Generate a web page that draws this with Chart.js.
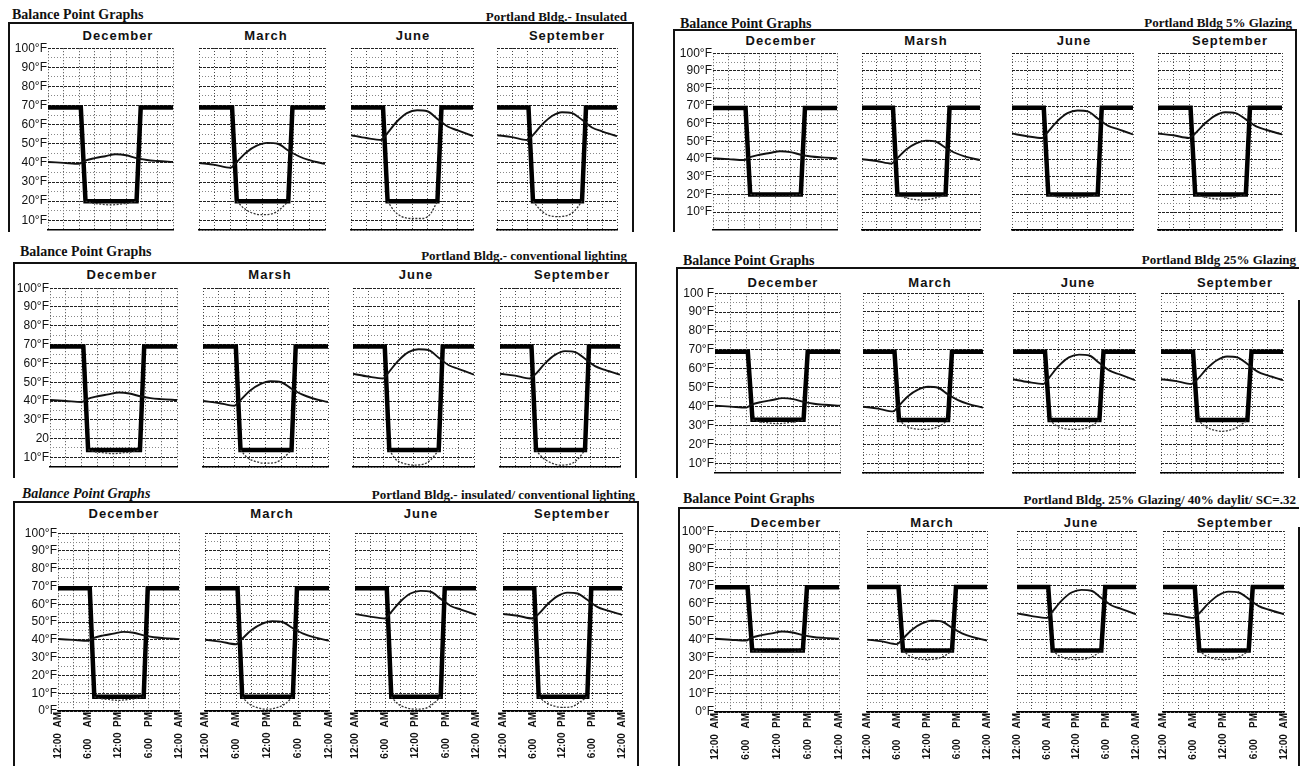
<!DOCTYPE html>
<html>
<head>
<meta charset="utf-8">
<title>Balance Point Graphs</title>
<script src="https://cdn.jsdelivr.net/npm/chart.js@4/dist/chart.umd.min.js"></script>
<style>
  body { margin: 0; width: 1304px; height: 766px; position: relative; overflow: hidden; background: #fff; }
  .txt { position: absolute; white-space: nowrap; color: #111; line-height: 1; }
  .ltitle { font: bold 14px "Liberation Serif", "Times New Roman", serif; }
  .ltitle.it { font-style: italic; }
  .rtitle { font: bold 13px "Liberation Serif", "Times New Roman", serif; }
  .month { font: bold 13px "Liberation Sans", Arial, sans-serif; letter-spacing: 1px; transform: translate(-50%, -50%); }
  .rule { position: absolute; background: #111; }
  canvas { position: absolute; }
</style>
</head>
<body>
<script>
// hours of day for each series
const tempHours = [0, 3, 6, 7, 9, 11, 13, 15, 17, 19, 21, 24];
const bpHours = [0, 6.3, 7.2, 17, 17.8, 24];
const dipHours = [7.2, 8.5, 10, 12, 14, 15.5, 17];

// outdoor temperature (°F), same site for every panel
const decTemp = [40.5, 40, 39.5, 41, 42.5, 43.5, 44.5, 44, 42.5, 41.5, 41, 40.5];
const marTemp = [40, 39, 37.5, 40, 45.5, 49, 50.5, 50, 46.5, 43.5, 41.5, 39.5];
const junTemp = [54.5, 53, 52, 55, 61.5, 66, 67.5, 67, 63, 59, 57, 54];
const sepTemp = [54.5, 53.5, 52, 54, 60, 64.5, 66.5, 66, 62.5, 58.5, 56.5, 54];
const temps = [decTemp, marTemp, junTemp, sepTemp];

// balance point (thick line) per building case
const bpInsulated = [69, 69, 20, 20, 69, 69];
const bpLighting = [69, 69, 14, 14, 69, 69];
const bpInsulatedLighting = [69, 69, 8, 8, 69, 69];
const bpGlazing5 = [69, 69, 20, 20, 69, 69];
const bpGlazing25 = [69, 69, 33, 33, 69, 69];
const bpDaylit = [69, 69, 34, 34, 69, 69];

// lower dotted curve under the occupied balance point, Dec / Mar / Jun / Sep
const dipInsulated = [
  [20, 19, 18.5, 18, 18.5, 19, 20],
  [20, 16.5, 14, 13, 13.5, 16, 20],
  [20, 15, 12, 11, 11, 13, 20],
  [20, 16, 13, 12, 12.5, 15, 20]
];
const dipLighting = [
  [14, 13, 12.5, 12, 12.5, 13, 14],
  [14, 10, 8, 7, 7.5, 10, 14],
  [14, 9, 7, 6, 6.5, 9, 14],
  [14, 10, 7.5, 6, 6.5, 9, 14]
];
const dipInsulatedLighting = [
  [8, 7, 6.5, 6, 6.5, 7, 8],
  [8, 4, 2, 1, 2, 4, 8],
  [8, 4, 2, 1, 1.5, 4, 8],
  [8, 5, 3, 2, 2.5, 5, 8]
];
const dipGlazing5 = [
  [20, 19.5, 19, 19, 19, 19.5, 20],
  [20, 18.5, 17.5, 17, 17.5, 18.5, 20],
  [20, 19, 18.5, 18, 18.5, 19, 20],
  [20, 19, 18, 17.5, 18, 19, 20]
];
const dipGlazing25 = [
  [33, 32, 31.5, 31, 31.5, 32, 33],
  [33, 30, 28.5, 28, 28.5, 30, 33],
  [33, 30, 28.5, 28, 28.5, 30, 33],
  [33, 30, 28, 27, 28, 30, 33]
];
const dipDaylit = [
  [34, 33.5, 33, 33, 33, 33.5, 34],
  [34, 31, 29.5, 29, 29.5, 31, 34],
  [34, 31, 29.5, 29, 29.5, 31, 34],
  [34, 31, 29.5, 29, 29.5, 31, 34]
];

// tick labels
const yTickValues = [100, 90, 80, 70, 60, 50, 40, 30, 20, 10, 0];
const yLabelsDeg = ['100°F', '90°F', '80°F', '70°F', '60°F', '50°F', '40°F', '30°F', '20°F', '10°F', ''];
const yLabelsDegZero = ['100°F', '90°F', '80°F', '70°F', '60°F', '50°F', '40°F', '30°F', '20°F', '10°F', '0°F'];
const yLabelsLighting = ['100°F', '90°F', '80°F', '70°F', '60°F', '50°F', '40°F', '30°F', '20', '10°F', ''];
const yLabelsGlazing = ['100 F', '90°F', '80°F', '70°F', '60°F', '50°F', '40°F', '30°F', '20°F', '10°F', ''];
const xTickHours = [0, 6, 12, 18, 24];
const xTickLabels = ['12:00  AM', '6:00    AM', '12:00  PM', '6:00    PM', '12:00  AM'];

const monthsStd = ['December', 'March', 'June', 'September'];
const monthsMarsh = ['December', 'Marsh', 'June', 'September'];

// layout of the six scanned panels
const panels = [
  { lt: 'Balance Point Graphs', ltPos: [12, 7], italic: false,
    rt: 'Portland Bldg.- Insulated', rtRight: 627, rtTop: 9,
    frame: { top: 22, left: 8, right: 632, bottom: 232, rightFrom: 22 },
    plots: [[48, 173], [199, 325], [351, 473], [497, 617]], top: 48, bottom: 230, yMin: 5,
    monthY: 35, monthX: [118, 266, 413, 567], months: monthsStd,
    bp: bpInsulated, dips: dipInsulated, yLabels: yLabelsDeg, bottomRow: false },
  { lt: 'Balance Point Graphs', ltPos: [20, 244], italic: false,
    rt: 'Portland Bldg.- conventional lighting', rtRight: 627, rtTop: 248,
    frame: { top: 262, left: 13, right: 635, bottom: 478, rightFrom: 262 },
    plots: [[50, 177], [203, 328], [353, 474], [500, 620]], top: 288, bottom: 467, yMin: 5,
    monthY: 274, monthX: [122, 270, 416, 572], months: monthsMarsh,
    bp: bpLighting, dips: dipLighting, yLabels: yLabelsLighting, bottomRow: false },
  { lt: 'Balance Point Graphs', ltPos: [22, 486], italic: true,
    rt: 'Portland Bldg.- insulated/ conventional lighting', rtRight: 635, rtTop: 487,
    frame: { top: 501, left: 13, right: 637, bottom: 766, rightFrom: 501 },
    plots: [[58, 180], [205, 330], [355, 477], [503, 623]], top: 533, bottom: 711, yMin: 0,
    monthY: 513, monthX: [124, 272, 421, 572], months: monthsStd,
    bp: bpInsulatedLighting, dips: dipInsulatedLighting, yLabels: yLabelsDegZero, bottomRow: true },
  { lt: 'Balance Point Graphs', ltPos: [680, 16], italic: false,
    rt: 'Portland Bldg  5%  Glazing', rtRight: 1292, rtTop: 15,
    frame: { top: 29, left: 673, right: 1295, bottom: 232, rightFrom: 29 },
    plots: [[713, 837], [862, 980], [1012, 1133], [1158, 1282]], top: 53, bottom: 230, yMin: 0,
    monthY: 40, monthX: [781, 926, 1074, 1230], months: monthsMarsh,
    bp: bpGlazing5, dips: dipGlazing5, yLabels: yLabelsDeg, bottomRow: false },
  { lt: 'Balance Point Graphs', ltPos: [683, 253], italic: false,
    rt: 'Portland Bldg  25% Glazing', rtRight: 1296, rtTop: 252,
    frame: { top: 267, left: 676, right: 1298, bottom: 478, rightFrom: 300 },
    plots: [[715, 840], [863, 983], [1013, 1135], [1161, 1283]], top: 293, bottom: 473, yMin: 5,
    monthY: 282, monthX: [783, 930, 1078, 1235], months: monthsStd,
    bp: bpGlazing25, dips: dipGlazing25, yLabels: yLabelsGlazing, bottomRow: false },
  { lt: 'Balance Point Graphs', ltPos: [683, 491], italic: false,
    rt: 'Portland Bldg. 25% Glazing/ 40% daylit/ SC=.32', rtRight: 1296, rtTop: 492,
    frame: { top: 507, left: 678, right: 1298, bottom: 766, rightFrom: 527 },
    plots: [[715, 840], [867, 988], [1017, 1137], [1163, 1285]], top: 531, bottom: 712, yMin: 0,
    monthY: 522, monthX: [786, 932, 1081, 1235], months: monthsStd,
    bp: bpDaylit, dips: dipDaylit, yLabels: yLabelsDegZero, bottomRow: true }
];

Chart.defaults.font.family = '"Liberation Sans", Arial, sans-serif';
Chart.defaults.color = '#111';

const YW = 40;   // y label column
const PX = 12;   // side padding of each canvas
const PT = 8;    // top padding
const XH = 52;   // rotated hour labels

function addText(cls, text, css) {
  const d = document.createElement('div');
  d.className = 'txt ' + cls;
  d.textContent = text;
  Object.assign(d.style, css);
  document.body.appendChild(d);
}

function addRule(x, y, w, h) {
  const d = document.createElement('div');
  d.className = 'rule';
  Object.assign(d.style, { left: x + 'px', top: y + 'px', width: w + 'px', height: h + 'px' });
  document.body.appendChild(d);
}

function buildChart(p, i) {
  const first = i === 0;
  const [l, r] = p.plots[i];
  const cv = document.createElement('canvas');
  const w = (r - l) + 2 * PX + (first ? YW : 0);
  const h = (p.bottom - p.top) + PT + (p.bottomRow ? XH : PT);
  cv.width = w;
  cv.height = h;
  cv.style.left = (l - PX - (first ? YW : 0)) + 'px';
  cv.style.top = (p.top - PT) + 'px';
  document.body.appendChild(cv);

  new Chart(cv, {
    type: 'line',
    data: {
      datasets: [
        {
          data: dipHours.map((hr, k) => ({ x: hr, y: p.dips[i][k] })),
          borderColor: '#333', borderWidth: 1.3, borderDash: [2, 1.5],
          pointRadius: 0, cubicInterpolationMode: 'monotone'
        },
        {
          data: tempHours.map((hr, k) => ({ x: hr, y: temps[i][k] })),
          borderColor: '#111', borderWidth: 1.9,
          pointRadius: 0, cubicInterpolationMode: 'monotone'
        },
        {
          data: bpHours.map((hr, k) => ({ x: hr, y: p.bp[k] })),
          borderColor: '#000', borderWidth: 4.5, borderJoinStyle: 'miter',
          pointRadius: 0, tension: 0
        }
      ]
    },
    options: {
      responsive: false,
      animation: false,
      devicePixelRatio: 1,
      layout: { padding: { left: PX, right: PX, top: PT, bottom: p.bottomRow ? 0 : PT } },
      plugins: { legend: { display: false }, tooltip: { enabled: false } },
      scales: {
        x: {
          type: 'linear', min: 0, max: 24,
          ticks: {
            stepSize: 3, display: p.bottomRow, autoSkip: false,
            minRotation: 90, maxRotation: 90, padding: 1,
            font: { size: 10, weight: 'bold' },
            callback: v => {
              const k = xTickHours.indexOf(v);
              return k >= 0 ? xTickLabels[k] : '';
            }
          },
          grid: { color: '#444', lineWidth: 1, drawTicks: false },
          border: { display: true, color: '#000', width: 1.5, dash: [1, 2] },
          afterFit: s => { s.height = p.bottomRow ? XH : 0; }
        },
        y: {
          min: p.yMin, max: 100,
          ticks: {
            stepSize: 5, display: first, padding: 1, autoSkip: false,
            font: { size: 12 },
            callback: v => {
              const k = yTickValues.indexOf(v);
              return k >= 0 ? p.yLabels[k] : '';
            }
          },
          grid: {
            color: c => (c.tick && c.tick.value % 10 === 0 ? '#222' : '#888'),
            lineWidth: 1, drawTicks: false
          },
          border: {
            display: false,
            dash: c => (c.tick && c.tick.value % 10 === 0 ? [3, 1] : [1, 2])
          },
          afterFit: s => { s.width = first ? YW : 0; }
        }
      }
    }
  });
}

panels.forEach(p => {
  addText('ltitle' + (p.italic ? ' it' : ''), p.lt, { left: p.ltPos[0] + 'px', top: p.ltPos[1] + 'px' });
  addText('rtitle', p.rt, { right: (1304 - p.rtRight) + 'px', top: p.rtTop + 'px' });
  const f = p.frame;
  addRule(f.left, f.top, f.right - f.left + 1, 1.5);
  addRule(f.left, f.top, 1.5, f.bottom - f.top);
  addRule(f.right, f.rightFrom, 1.5, f.bottom - f.rightFrom);
  p.months.forEach((m, i) => {
    addText('month', m, { left: p.monthX[i] + 'px', top: p.monthY + 'px' });
  });
  p.plots.forEach((_, i) => buildChart(p, i));
});
</script>
</body>
</html>
